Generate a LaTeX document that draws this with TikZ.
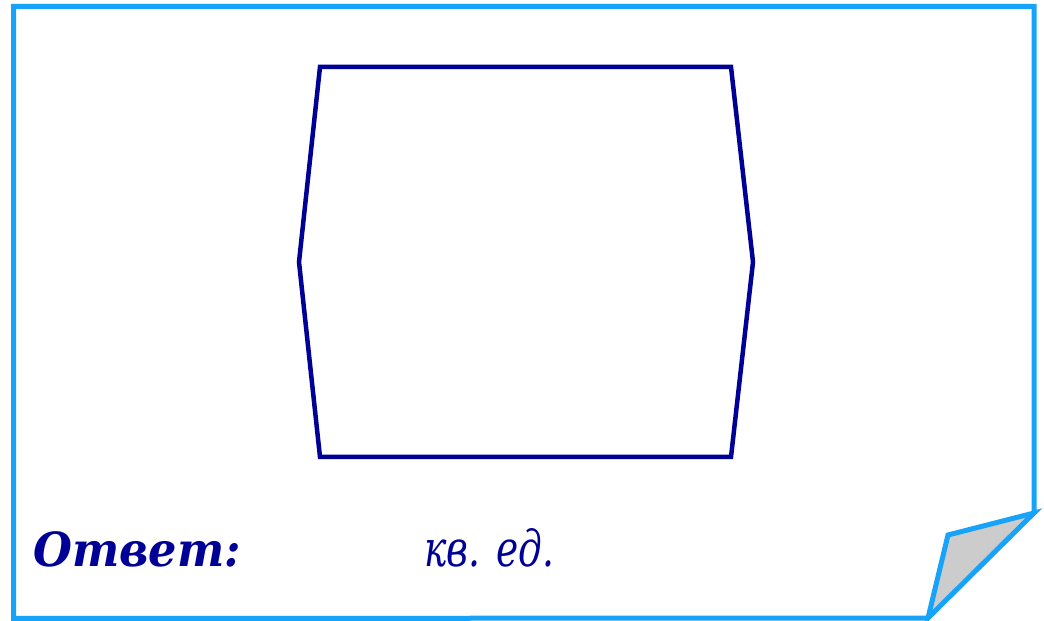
\documentclass[tikz,border=0pt]{standalone}
\usepackage{fontspec}
\newfontfamily\ansfont{DejaVu Serif}
\definecolor{framec}{RGB}{24,163,250}
\definecolor{hexc}{RGB}{0,0,150}
\definecolor{foldc}{RGB}{204,204,204}
\tikzset{
  framestyle/.style={draw=framec, line width=5pt, line join=miter},
  hexstyle/.style={draw=hexc, line width=4.5pt, line join=miter},
  anstext/.style={text=hexc, inner sep=0pt, anchor=base west, font=\ansfont\fontsize{47}{50}\selectfont\bfseries\itshape},
  unittext/.style={text=hexc, inner sep=0pt, anchor=base west, font=\ansfont\fontsize{50}{54}\selectfont\itshape}
}
\begin{document}
\begin{tikzpicture}[x=1pt,y=1pt]
\useasboundingbox (0,0) rectangle (1044,621);
\fill[white] (0,0) rectangle (1044,621);
% frame (y = 621 - pixel y)
\coordinate (fb) at (928,3);
\coordinate (bl) at (13.5,2.5);
\coordinate (tl) at (13.5,614.5);
\coordinate (tr) at (1034,614.5);
\coordinate (fr) at (1034,108);
\coordinate (fu) at (948,86);
\draw[framestyle] (fb) -- (bl) -- (tl) -- (tr) -- (fr);
\filldraw[framestyle, fill=foldc] (fr) -- (fu) -- (fb) -- cycle;
% hexagon
\coordinate (h1) at (320,554);
\coordinate (h2) at (731,554);
\coordinate (h3) at (753,359);
\coordinate (h4) at (731,164);
\coordinate (h5) at (320,164);
\coordinate (h6) at (299,359);
\draw[hexstyle] (h1) -- (h2) -- (h3) -- (h4) -- (h5) -- (h6) -- cycle;
% texts
\node[anstext] (ans) at (33,54) {\scalebox{0.95}[1]{Ответ:}};
\node[unittext] (unit) at (424,54) {\scalebox{0.75}[1]{кв. ед.}};
\end{tikzpicture}
\end{document}
